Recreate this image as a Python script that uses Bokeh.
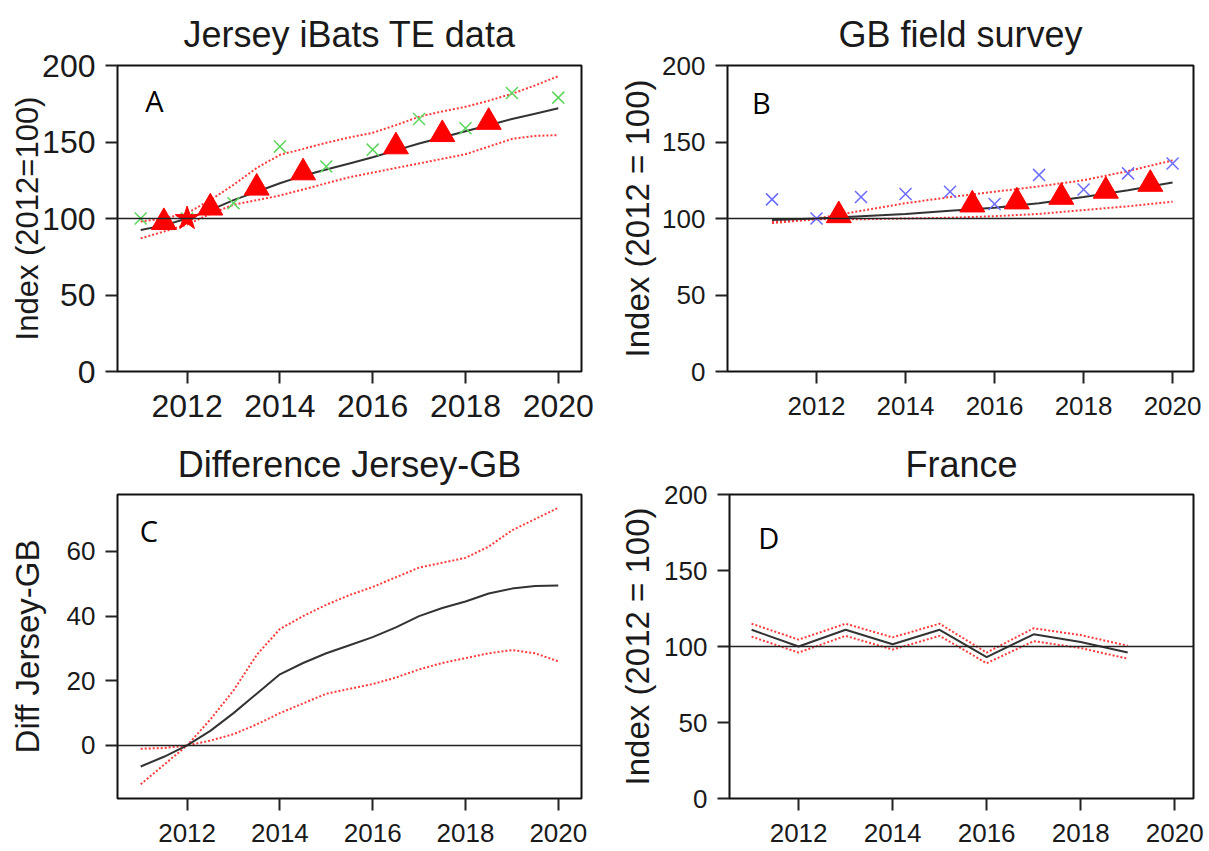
from bokeh.plotting import figure
from bokeh.models import FixedTicker, Span, Label, Range1d
from bokeh.layouts import column, row
from bokeh.embed import file_html
from bokeh.resources import INLINE

# ---------------- data ----------------
# Panel A: Jersey iBats TE data
jersey_years = [2011, 2012, 2013, 2014, 2015, 2016, 2017, 2018, 2019, 2020]
jersey_index = [100, 100, 110, 147, 134, 145, 165, 159, 182, 179]
jersey_tri_x = [2011.5, 2012.5, 2013.5, 2014.5, 2016.5, 2017.5, 2018.5]
jersey_tri_y = [97.5, 107, 120, 130, 147, 155, 163]
jersey_star_x = [2012]
jersey_star_y = [100]
half_years = [2011, 2011.5, 2012, 2012.5, 2013, 2013.5, 2014, 2014.5, 2015, 2015.5,
              2016, 2016.5, 2017, 2017.5, 2018, 2018.5, 2019, 2019.5, 2020]
jersey_trend = [92.5, 95.5, 100, 105.5, 112, 117.5, 123, 128, 132, 136,
                140, 144.5, 149, 153, 157, 161, 165, 168.5, 172]
jersey_upper = [98, 100, 103.5, 112, 122, 133, 141.6, 145.5, 149.5, 153,
                156, 161, 166.5, 170, 173, 177, 181.5, 187, 193]
jersey_lower = [87, 91.5, 96, 103, 109, 112, 115, 119, 123, 127,
                130, 133, 136, 139, 142, 147, 152, 154, 154.5]

# Panel B: GB field survey
gb_years = [2011, 2012, 2013, 2014, 2015, 2016, 2017, 2018, 2019, 2020]
gb_index = [112.5, 100, 114, 116, 117.5, 109.5, 128.5, 119, 129.5, 136]
gb_tri_x = [2012.5, 2015.5, 2016.5, 2017.5, 2018.5, 2019.5]
gb_tri_y = [102, 109, 111, 114, 118, 122.5]
gb_trend = [99, 100, 101.5, 103, 105, 107, 110, 114, 118.5, 123.5]
gb_upper = [98, 100, 105, 110, 114, 117.5, 121, 125, 131, 138]
gb_lower = [97, 99.5, 99.5, 100, 100.5, 101.5, 103, 105.5, 108, 111]

# Panel C: Difference Jersey-GB
diff_trend = [-6.5, -3.5, 0, 4.5, 10, 16, 22, 25.5, 28.5, 31,
              33.5, 36.5, 40, 42.5, 44.5, 47, 48.5, 49.3, 49.5]
diff_upper = [-12, -6, 0, 8, 17, 28, 36, 40, 43.5, 46.5,
              49, 52, 55, 56.5, 58, 61.5, 66.5, 70, 73.5]
diff_lower = [-1, -0.8, 0, 1.5, 3.5, 6.5, 10, 13, 16, 17.5,
              19, 21, 23.5, 25.5, 27, 28.5, 29.5, 28.5, 26]

# Panel D: France
fr_years = [2011, 2012, 2013, 2014, 2015, 2016, 2017, 2018, 2019]
fr_index = [111, 100, 111, 101.5, 111, 93, 108, 103, 96]
fr_upper = [115, 104.5, 115, 106, 115, 96, 112, 107.5, 100.5]
fr_lower = [106.5, 96, 107, 98, 107, 89, 103.5, 99, 92]

x_ticks = [2012, 2014, 2016, 2018, 2020]
index_ticks = [0, 50, 100, 150, 200]
diff_ticks = [0, 20, 40, 60]

TXT = "#1a1a1a"
RED = "#ff3b3b"
LINE = "#333333"


def panel(width, height, xr, yr, borders, title, title_standoff, ylab, yticks,
          tick_font, xstand, ylab_font, ylab_standoff):
    bl, br, bt, bb = borders
    p = figure(width=width, height=height, x_range=Range1d(*xr), y_range=Range1d(*yr),
               output_backend="svg", toolbar_location=None,
               min_border_left=bl, min_border_right=br,
               min_border_top=bt, min_border_bottom=bb)
    p.background_fill_color = "white"
    p.border_fill_color = "white"
    p.outline_line_color = "#111111"
    p.outline_line_width = 2
    p.xgrid.visible = False
    p.ygrid.visible = False
    p.title.text = title
    p.title.align = "center"
    p.title.text_font = "Liberation Sans"
    p.title.text_font_size = "36px"
    p.title.text_font_style = "normal"
    p.title.text_color = TXT
    p.title.standoff = title_standoff
    p.xaxis.ticker = FixedTicker(ticks=x_ticks)
    p.yaxis.ticker = FixedTicker(ticks=yticks)
    for ax in (p.xaxis, p.yaxis):
        ax.axis_line_color = None
        ax.major_tick_out = 12
        ax.major_tick_in = 0
        ax.minor_tick_out = 0
        ax.minor_tick_in = 0
        ax.major_tick_line_width = 2
        ax.major_tick_line_color = "#222222"
        ax.major_label_text_font = "Liberation Sans"
        ax.major_label_text_font_size = tick_font
        ax.major_label_text_color = TXT
        ax.major_label_standoff = 10
    p.xaxis.major_label_standoff = xstand
    p.yaxis.axis_label = ylab
    p.yaxis.axis_label_text_font = "Liberation Sans"
    p.yaxis.axis_label_text_font_size = ylab_font
    p.yaxis.axis_label_text_font_style = "normal"
    p.yaxis.axis_label_text_color = TXT
    p.yaxis.axis_label_standoff = ylab_standoff
    return p


def letter(p, txt, x, y):
    p.add_layout(Label(x=x, y=y, text=txt, text_font="Open Sans", text_font_size="29px",
                       text_color="black", text_baseline="middle", text_align="left"))


TOP_H = 432
BOT_H = 419

# ---------------- Panel A ----------------
pa = panel(604, TOP_H, (2010.5, 2020.5), (0, 200), (117, 23, 65, TOP_H - 371),
           "Jersey iBats TE data", 21, "Index (2012=100)", index_ticks,
           "32px", 11, "31px", -6)
pa.add_layout(Span(location=100, dimension="width", line_color="#222222", line_width=1.6))
pa.line(half_years, jersey_upper, line_color=RED, line_width=2, line_dash="2 2")
pa.line(half_years, jersey_lower, line_color=RED, line_width=2, line_dash="2 2")
pa.line(half_years, jersey_trend, line_color=LINE, line_width=2)
pa.scatter(jersey_years, jersey_index, marker="x", size=17, line_color="#5cd65c", line_width=1.5)
pa.scatter(jersey_tri_x, jersey_tri_y, marker="triangle", size=25, fill_color="red", line_color="red")
pa.scatter(jersey_star_x, jersey_star_y, marker="star", size=25, fill_color="red", line_color="red")
letter(pa, "A", 2011.1, 177)

# ---------------- Panel B ----------------
pb = panel(605, TOP_H, (2010.0, 2020.47), (0, 200), (123, 16, 65, TOP_H - 371),
           "GB field survey", 21, "Index (2012 = 100)", index_ticks,
           "26px", 13, "33px", 3)
pb.add_layout(Span(location=100, dimension="width", line_color="#222222", line_width=1.6))
pb.line(gb_years, gb_upper, line_color=RED, line_width=2, line_dash="2 2")
pb.line(gb_years, gb_lower, line_color=RED, line_width=2, line_dash="2 2")
pb.line(gb_years, gb_trend, line_color=LINE, line_width=2)
pb.scatter(gb_years, gb_index, marker="x", size=17, line_color="#6b6bff", line_width=1.5)
pb.scatter(gb_tri_x, gb_tri_y, marker="triangle", size=25, fill_color="red", line_color="red")
letter(pb, "B", 2010.55, 176)

# ---------------- Panel C ----------------
pc = panel(604, BOT_H, (2010.5, 2020.5), (-16.4, 77.6), (117, 23, 494 - TOP_H, 851 - 798),
           "Difference Jersey-GB", 19, "Diff Jersey-GB", diff_ticks,
           "26px", 13, "33px", 18)
pc.add_layout(Span(location=0, dimension="width", line_color="#222222", line_width=1.6))
pc.line(half_years, diff_upper, line_color=RED, line_width=2, line_dash="2 2")
pc.line(half_years, diff_lower, line_color=RED, line_width=2, line_dash="2 2")
pc.line(half_years, diff_trend, line_color=LINE, line_width=2)
letter(pc, "C", 2010.98, 66.5)

# ---------------- Panel D ----------------
pd_ = panel(605, BOT_H, (2010.53, 2020.4), (0, 200), (125, 16, 494 - TOP_H, 851 - 798),
            "France", 19, "Index (2012 = 100)", index_ticks,
            "26px", 13, "33px", 5)
pd_.add_layout(Span(location=100, dimension="width", line_color="#222222", line_width=1.6))
pd_.line(fr_years, fr_upper, line_color=RED, line_width=2, line_dash="2 2")
pd_.line(fr_years, fr_lower, line_color=RED, line_width=2, line_dash="2 2")
pd_.line(fr_years, fr_index, line_color=LINE, line_width=2)
letter(pd_, "D", 2011.14, 172)

layout = column(row(pa, pb), row(pc, pd_))
open("out.html", "w").write(file_html(layout, INLINE))
